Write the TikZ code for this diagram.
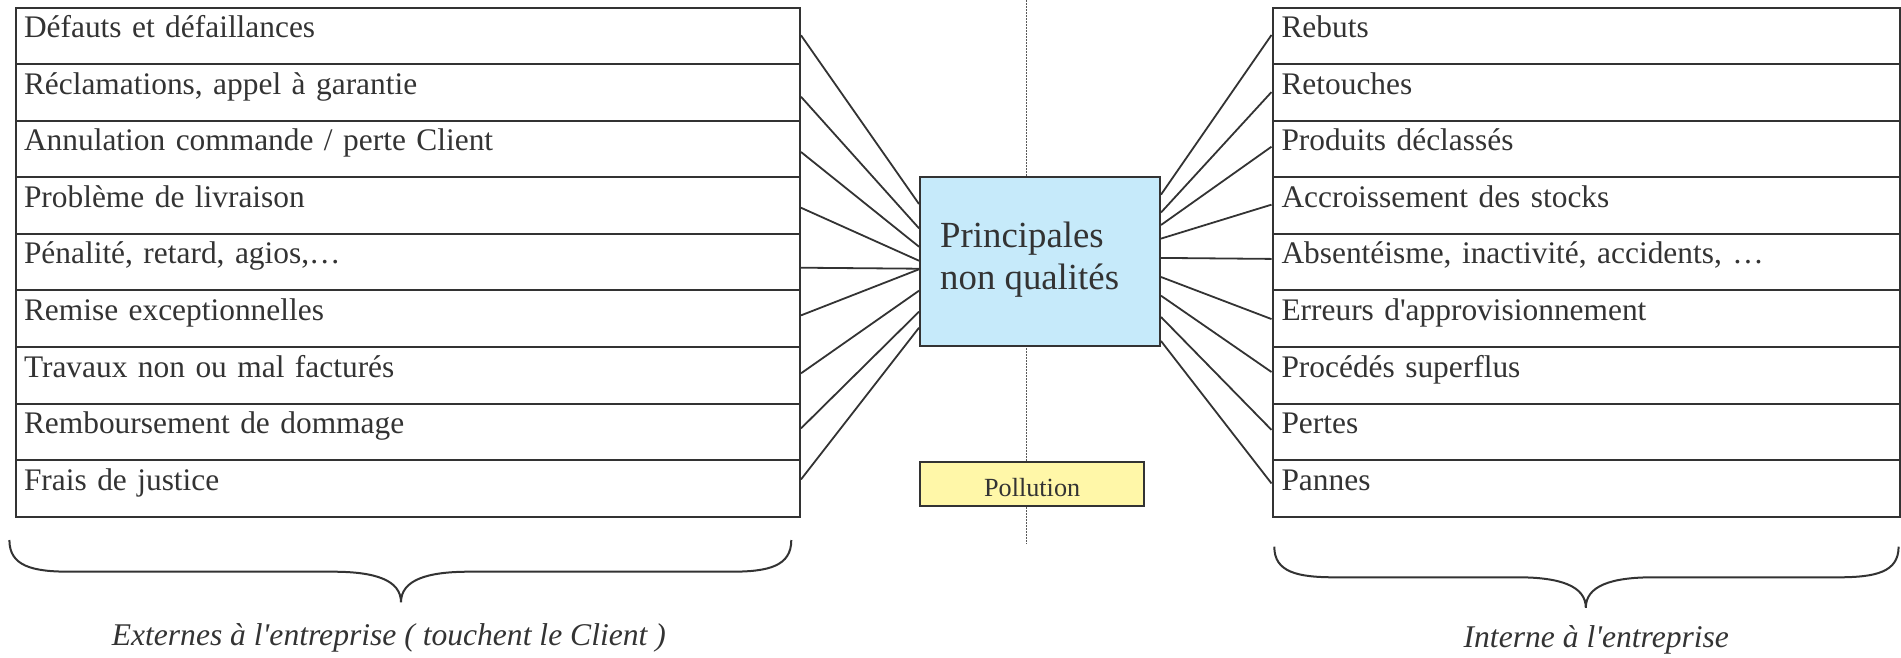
\documentclass[tikz,border=0pt]{standalone}
\usepackage{fontspec}
\setmainfont{Liberation Serif}[Ligatures=TeXOff]
\usetikzlibrary{calc}
\definecolor{ink}{RGB}{51,51,51}
\definecolor{corefill}{RGB}{198,234,250}
\definecolor{pollfill}{RGB}{255,247,168}
\definecolor{axisgray}{RGB}{90,90,90}

\begin{document}
\begin{tikzpicture}[x=1pt, y=-1pt,
  every node/.style={text=ink},
  rowbox/.style={draw=ink, line width=2pt, anchor=north west,
    inner ysep=0pt, text height=30pt, text depth=26.556pt, align=left,
    font=\fontsize{31.4pt}{38pt}\selectfont},
  leftrow/.style={rowbox, inner xsep=8.5pt, text width=767.5pt},
  rightrow/.style={rowbox, inner xsep=9pt, text width=609.5pt},
  corebox/.style={draw=ink, line width=2pt, fill=corefill, anchor=north west,
    inner sep=0pt, minimum width=240pt, minimum height=169.3pt},
  coretext/.style={anchor=base west, inner sep=0pt,
    font=\fontsize{36.8pt}{42pt}\selectfont},
  pollbox/.style={draw=ink, line width=2pt, fill=pollfill, anchor=north west,
    inner sep=0pt, minimum width=224.3pt, minimum height=44pt,
    text height=25.4pt, text depth=0pt,
    font=\fontsize{26.2pt}{30pt}\selectfont},
  link/.style={draw=ink, line width=1.8pt},
  brace/.style={draw=ink, line width=2pt},
  caption/.style={anchor=base, inner sep=0pt,
    font=\itshape\fontsize{31.6pt}{38pt}\selectfont},
  axis/.style={draw=axisgray, line width=1.3pt, dash pattern=on 1.5pt off 1.5pt}
]
\useasboundingbox (0,0) rectangle (1901,657);

% dotted separation axis, drawn first so the boxes cover it
\coordinate (axtop) at (1026.5,0);
\coordinate (axbot) at (1026.5,544);
\draw[axis] (axtop) -- (axbot);

% external non-quality items (left column)
\foreach \t [count=\i] in {
  {Défauts et défaillances},
  {Réclamations, appel à garantie},
  {Annulation commande / perte Client},
  {Problème de livraison},
  {Pénalité, retard, agios,…},
  {Remise exceptionnelles},
  {Travaux non ou mal facturés},
  {Remboursement de dommage},
  {Frais de justice}}
  \node[leftrow] (L\i) at (14.5,{6.7+(\i-1)*56.556}) {\t};

% internal non-quality items (right column)
\foreach \t [count=\i] in {
  {Rebuts},
  {Retouches},
  {Produits déclassés},
  {Accroissement des stocks},
  {Absentéisme, inactivité, accidents, …},
  {Erreurs d'approvisionnement},
  {Procédés superflus},
  {Pertes},
  {Pannes}}
  \node[rightrow] (R\i) at (1271.5,{6.7+(\i-1)*56.556}) {\t};

% central box
\node[corebox] (core) at (919,175.7) {};
\node[coretext] (coreA) at (940,247.3) {Principales};
\node[coretext] (coreB) at (940,289.3) {non qualités};

% pollution box
\node[pollbox] (poll) at (919,461) {Pollution};

% connectors: left items -> central box
\foreach \i/\s/\e in {1/-0.7/28.3, 2/4.2/52.6, 3/2.9/71, 4/2.1/85,
    5/5.5/93, 6/-3.4/93.6, 7/-2.0/115, 8/-3.5/136, 9/-9/152}
  \draw[link] ($(L\i.east)+(0,\s)$) -- ($(core.north west)+(0,\e)$);

% connectors: central box -> right items
\foreach \i/\s/\e in {1/18.9/-1, 2/36.8/-0.5, 3/49.3/-2.4, 4/62.9/-1,
    5/82.2/-3.3, 6/101.3/0.3, 7/120/-3.3, 8/141.3/-2, 9/165.3/-5}
  \draw[link] ($(core.north east)+(0,\s)$) -- ($(R\i.west)+(0,\e)$);

% curly braces under both columns
\draw[brace] (9.4,540) .. controls (9.4,566) and (32,571.7) .. (70,571.7)
  -- (333,571.7) .. controls (375,571.7) and (401,580) .. (401,602.3)
  .. controls (401,580) and (427,571.7) .. (469,571.7)
  -- (731,571.7) .. controls (769,571.7) and (791.3,566) .. (791.3,540);
\draw[brace] (1274.3,546.7) .. controls (1274.3,572) and (1297,577.3) .. (1335,577.3)
  -- (1518,577.3) .. controls (1560,577.3) and (1585.8,586) .. (1585.8,607.7)
  .. controls (1585.8,586) and (1611,577.3) .. (1653,577.3)
  -- (1838,577.3) .. controls (1876,577.3) and (1898.6,572) .. (1898.6,546.7);

% captions
\node[caption] (extlabel) at (388.8,645) {Externes à l'entreprise ( touchent le Client )};
\node[caption] (intlabel) at (1596.3,647) {Interne à l'entreprise};
\end{tikzpicture}
\end{document}
